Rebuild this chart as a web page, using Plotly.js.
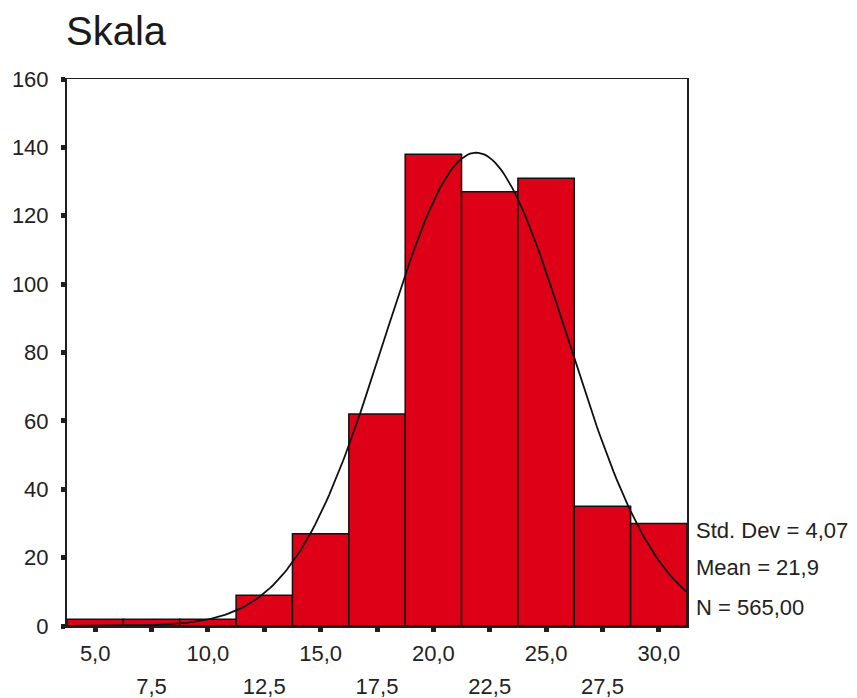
<!DOCTYPE html>
<html>
<head>
<meta charset="utf-8">
<script src="https://cdn.plot.ly/plotly-3.0.1.min.js"></script>
<style>
  html, body { margin: 0; padding: 0; background: #ffffff; }
  #chart { width: 857px; height: 698px; }
</style>
</head>
<body>
<div id="chart"></div>
<script>
// ---- data ----
const binCenters = [5.0, 7.5, 10.0, 12.5, 15.0, 17.5, 20.0, 22.5, 25.0, 27.5, 30.0];
const binCounts  = [2, 2, 2, 9, 27, 62, 138, 127, 131, 35, 30];
const binWidth   = 2.5;
const statMean   = 21.9;
const statStdDev = 4.07;
const statN      = 565;
const tickRow1Vals = [5.0, 10.0, 15.0, 20.0, 25.0, 30.0];
const tickRow1Text = ["5,0", "10,0", "15,0", "20,0", "25,0", "30,0"];
const tickRow2Vals = [7.5, 12.5, 17.5, 22.5, 27.5];
const tickRow2Text = ["7,5", "12,5", "17,5", "22,5", "27,5"];
const yTickVals = [0, 20, 40, 60, 80, 100, 120, 140, 160];
const statLabels = ["Std. Dev = 4,07", "Mean = 21,9", "N = 565,00"];

// ---- derived ----
const xMin = binCenters[0] - binWidth / 2;
const xMax = binCenters[binCenters.length - 1] + binWidth / 2;

// fitted normal curve from the chart's own mean, std. dev and N
const curveX = [], curveY = [];
const steps = 220;
for (let i = 0; i <= steps; i++) {
  const x = xMin + (xMax - xMin) * i / steps;
  const z = (x - statMean) / statStdDev;
  curveX.push(x);
  curveY.push(statN * binWidth / (statStdDev * Math.sqrt(2 * Math.PI)) * Math.exp(-0.5 * z * z));
}

const textFont = { family: "Liberation Sans, Arial, sans-serif", size: 22, color: "#222222" };

const traces = [
  {
    type: "bar",
    x: binCenters,
    y: binCounts,
    width: binCenters.map(() => binWidth),
    marker: { color: "#DE0016", line: { color: "#111111", width: 1.5 } },
    hoverinfo: "x+y",
    showlegend: false
  },
  {
    type: "scatter",
    mode: "lines",
    x: curveX,
    y: curveY,
    line: { color: "#111111", width: 1.8 },
    hoverinfo: "skip",
    showlegend: false
  },
  {
    type: "scatter",
    mode: "markers",
    x: [tickRow2Vals[0]],
    y: [0],
    xaxis: "x2",
    marker: { opacity: 0 },
    hoverinfo: "skip",
    showlegend: false
  }
];

const allTickText = binCenters.map(v => {
  const k = tickRow1Vals.indexOf(v);
  return k >= 0 ? tickRow1Text[k] : "";
});

const statY = [0.1755, 0.107, 0.034];
const annotations = statLabels.map((t, i) => ({
  text: t,
  xref: "paper", yref: "paper",
  x: 1.011, y: statY[i],
  xanchor: "left", yanchor: "middle",
  showarrow: false,
  font: textFont
}));

const layout = {
  width: 857,
  height: 698,
  margin: { l: 67, r: 170, t: 79, b: 72 },
  paper_bgcolor: "#ffffff",
  plot_bgcolor: "#ffffff",
  bargap: 0,
  title: {
    text: "Skala",
    font: { family: "Liberation Sans, Arial, sans-serif", size: 40, color: "#1a1a1a" },
    x: 66 / 857, xanchor: "left", xref: "container",
    y: 1 - 31 / 698, yanchor: "middle", yref: "container"
  },
  xaxis: {
    range: [xMin, xMax],
    tickmode: "array",
    tickvals: binCenters,
    ticktext: allTickText,
    ticks: "outside",
    ticklen: 4,
    tickwidth: 5,
    tickcolor: "#1e1e1e",
    ticklabelstandoff: 3,
    tickfont: textFont,
    showgrid: false,
    zeroline: false,
    showline: true,
    linecolor: "#1e1e1e",
    linewidth: 1.5,
    mirror: true,
    fixedrange: true
  },
  xaxis2: {
    range: [xMin, xMax],
    overlaying: "x",
    anchor: "y",
    side: "bottom",
    tickmode: "array",
    tickvals: tickRow2Vals,
    ticktext: tickRow2Text,
    ticks: "",
    ticklabelstandoff: 45,
    tickfont: textFont,
    showgrid: false,
    zeroline: false,
    showline: false,
    fixedrange: true
  },
  yaxis: {
    range: [0, 160],
    tickmode: "array",
    tickvals: yTickVals,
    ticktext: yTickVals.map(String),
    ticks: "outside",
    ticklen: 4,
    tickwidth: 5,
    tickcolor: "#1e1e1e",
    ticklabelstandoff: 8,
    tickfont: textFont,
    showgrid: false,
    zeroline: false,
    showline: true,
    linecolor: "#1e1e1e",
    linewidth: 2,
    mirror: true,
    fixedrange: true
  },
  annotations: annotations
};

Plotly.newPlot("chart", traces, layout, { displayModeBar: false, staticPlot: true });
</script>
</body>
</html>
